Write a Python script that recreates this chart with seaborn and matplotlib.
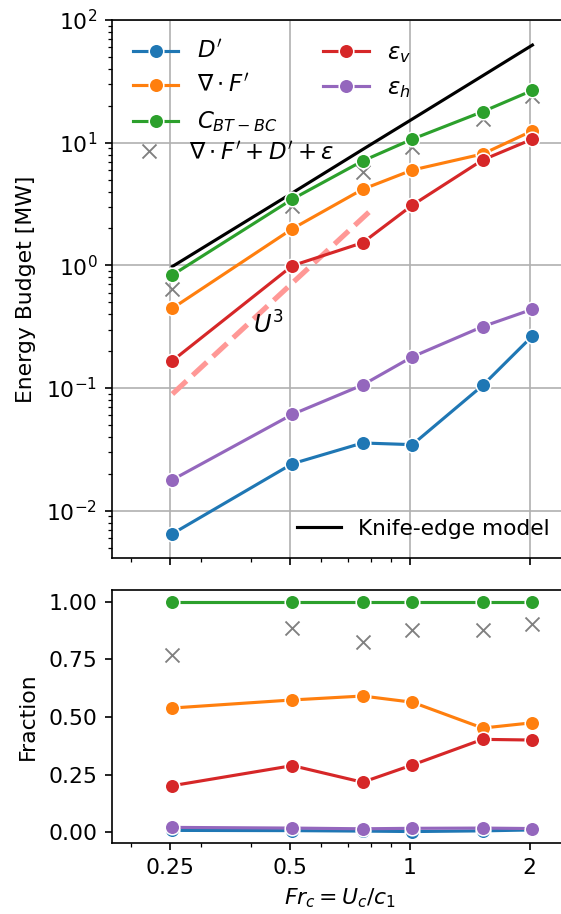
import matplotlib
matplotlib.use("Agg")
import matplotlib.pyplot as plt
import seaborn as sns
import pandas as pd
from matplotlib.ticker import NullFormatter, FixedLocator, FixedFormatter

# ---- data ----
fr = [0.254, 0.508, 0.762, 1.016, 1.524, 2.032]
d_prime = [0.0065, 0.0242, 0.0357, 0.0346, 0.105, 0.266]
div_f = [0.447, 1.99, 4.17, 5.99, 8.09, 12.5]
c_btbc = [0.835, 3.47, 7.1, 10.7, 17.9, 26.7]
eps_v = [0.167, 0.995, 1.53, 3.1, 7.23, 10.7]
eps_h = [0.0179, 0.0611, 0.106, 0.180, 0.317, 0.439]
budget_sum = [0.64, 3.05, 5.8, 9.2, 15.5, 23.8]
knife_edge = [0.98, 3.9, 8.8, 15.6, 35.1, 62.5]
u3_x = [0.254, 0.817]
u3_y = [0.0895, 3.0]

frac_d = [0.008, 0.007, 0.005, 0.003, 0.006, 0.010]
frac_div_f = [0.539, 0.574, 0.591, 0.564, 0.452, 0.475]
frac_c = [1.0, 1.0, 1.0, 1.0, 1.0, 1.0]
frac_eps_v = [0.202, 0.289, 0.217, 0.292, 0.403, 0.400]
frac_eps_h = [0.021, 0.018, 0.015, 0.017, 0.018, 0.016]
frac_sum = [0.769, 0.887, 0.827, 0.877, 0.879, 0.902]

xtick_vals = [0.25, 0.5, 1, 2]
xtick_labels = ["0.25", "0.5", "1", "2"]

labels = {
    "d": r"$D'$",
    "f": r"$\nabla \cdot F'$",
    "c": r"$C_{BT-BC}$",
    "ev": r"$\varepsilon_v$",
    "eh": r"$\varepsilon_h$",
    "sum": r"$\nabla \cdot F' + D' + \varepsilon$",
}
colors = {"d": "tab:blue", "f": "tab:orange", "c": "tab:green",
          "ev": "tab:red", "eh": "tab:purple"}

plt.rcParams["font.size"] = 10.5
plt.rcParams["axes.labelsize"] = 10.5
plt.rcParams["xtick.labelsize"] = 10.5
plt.rcParams["ytick.labelsize"] = 10.5

W, H, DPI = 561, 914, 150
fig = plt.figure(figsize=(W / DPI, H / DPI), dpi=DPI)

def px_axes(x0, y0, x1, y1):
    return fig.add_axes([x0 / W, 1 - y1 / H, (x1 - x0) / W, (y1 - y0) / H])

ax1 = px_axes(112, 20, 569, 558.3)
ax2 = px_axes(112, 590, 569, 843.3)

top = {"d": d_prime, "f": div_f, "c": c_btbc, "ev": eps_v, "eh": eps_h}
bot = {"d": frac_d, "f": frac_div_f, "c": frac_c, "ev": frac_eps_v, "eh": frac_eps_h}

handles = {}
for k in ["d", "f", "c", "ev", "eh"]:
    sns.lineplot(x=fr, y=top[k], ax=ax1, color=colors[k], marker="o",
                 markersize=7, lw=1.5, label=labels[k], legend=False)
    handles[k] = ax1.get_lines()[-1]
    sns.lineplot(x=fr, y=bot[k], ax=ax2, color=colors[k], marker="o",
                 markersize=7, lw=1.5, legend=False)

sns.scatterplot(x=fr, y=budget_sum, ax=ax1, marker="x", color="gray", s=45,
                linewidth=0.9, zorder=1.5, legend=False)
sum_handle = ax1.collections[-1]
sns.scatterplot(x=fr, y=frac_sum, ax=ax2, marker="x", color="gray", s=45,
                linewidth=0.9, legend=False)

sns.lineplot(x=fr, y=knife_edge, ax=ax1, color="black", lw=1.5, zorder=1.8)
ke_handle = ax1.get_lines()[-1]
sns.lineplot(x=u3_x, y=u3_y, ax=ax1, color="#ff9896", lw=2.5, ls="--", zorder=1.2)
ax1.text(0.405, 0.28, r"$U^3$", fontsize=11.5)

for ax in (ax1, ax2):
    ax.set_xscale("log")
    ax.set_xlim(0.1792, 2.51)
    ax.xaxis.set_major_locator(FixedLocator(xtick_vals))
    ax.xaxis.set_major_formatter(FixedFormatter(xtick_labels))
    ax.xaxis.set_minor_formatter(NullFormatter())

ax1.set_yscale("log")
ax1.set_ylim(0.0041, 100)
ax1.grid(True, which="major", color="#b0b0b0", lw=0.8)
ax1.set_axisbelow(True)
ax1.tick_params(axis="x", labelbottom=False)
ax1.set_ylabel("Energy Budget [MW]", labelpad=5)

ax2.set_ylim(-0.048, 1.051)
ax2.set_yticks([0.0, 0.25, 0.5, 0.75, 1.0])
ax2.set_yticklabels(["0.00", "0.25", "0.50", "0.75", "1.00"])
ax2.set_ylabel("Fraction", labelpad=5)
ax2.set_xlabel(r"$Fr_c = U_c/c_1$")

LFS = 11
leg1 = ax1.legend([handles[k] for k in ["d", "f", "c", "ev", "eh"]],
                  [labels[k] for k in ["d", "f", "c", "ev", "eh"]],
                  ncol=2, loc="upper left", frameon=False, fontsize=LFS,
                  borderaxespad=0.5)
ax1.add_artist(leg1)
leg2 = ax1.legend([sum_handle], [labels["sum"]], loc="center left",
                  bbox_to_anchor=(14 / 457, 0.751), borderaxespad=0, borderpad=0,
                  handletextpad=0.75, scatteryoffsets=[0.6], frameon=False,
                  fontsize=LFS)
ax1.add_artist(leg2)
ax1.legend([ke_handle], ["Knife-edge model"], loc="lower right", frameon=False,
           fontsize=10.4)

fig.savefig("out.png", dpi=DPI)
